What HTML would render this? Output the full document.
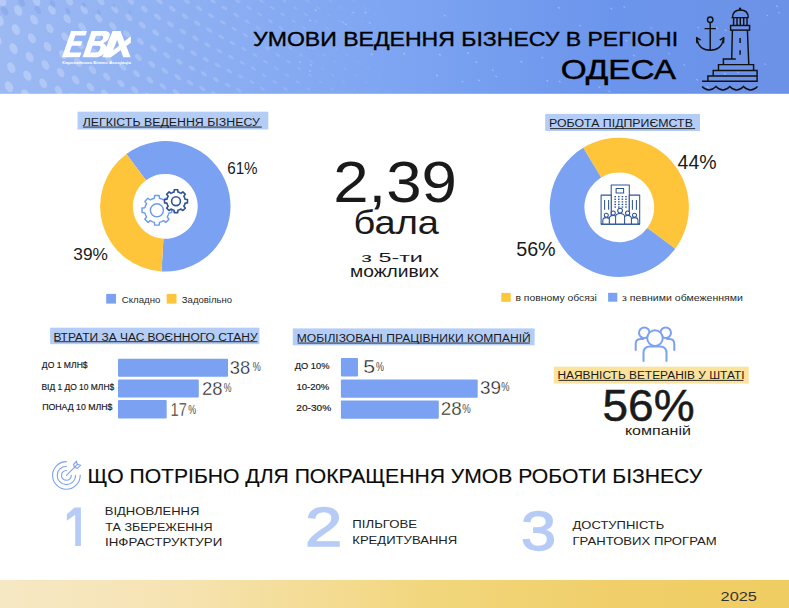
<!DOCTYPE html>
<html><head><meta charset="utf-8"><style>
html,body{margin:0;padding:0;background:#fff;}
svg{display:block;}
text{font-family:"Liberation Sans",sans-serif;}
</style></head><body>
<svg width="789" height="608" viewBox="0 0 789 608">
<defs>
<linearGradient id="hg" x1="0" y1="0" x2="1" y2="0">
<stop offset="0" stop-color="#9CB9F3"/>
<stop offset="0.5" stop-color="#7EA5F2"/>
<stop offset="0.78" stop-color="#6B95EC"/>
<stop offset="1" stop-color="#6B92E6"/>
</linearGradient>
<linearGradient id="fg" x1="0" y1="0" x2="1" y2="0">
<stop offset="0" stop-color="#F6E8C4"/>
<stop offset="0.2" stop-color="#F6E4B5"/>
<stop offset="0.55" stop-color="#F2D67C"/>
<stop offset="0.78" stop-color="#F0CF6A"/>
<stop offset="1" stop-color="#F0CD62"/>
</linearGradient>
</defs>
<rect x="0" y="0" width="789" height="93.8" fill="url(#hg)"/>
<g><ellipse cx="4.2" cy="-18.5" rx="3.85" ry="5.75" transform="rotate(-26 4.2 -18.5)" fill="#ffffff" opacity="0.26"/>
<ellipse cx="1.9" cy="1.0" rx="3.88" ry="5.78" transform="rotate(-25 1.9 1.0)" fill="#ffffff" opacity="0.26"/>
<ellipse cx="-0.5" cy="20.5" rx="3.91" ry="5.80" transform="rotate(-25 -0.5 20.5)" fill="#ffffff" opacity="0.26"/>
<ellipse cx="-2.8" cy="39.9" rx="3.93" ry="5.83" transform="rotate(-25 -2.8 39.9)" fill="#ffffff" opacity="0.26"/>
<ellipse cx="-5.1" cy="59.4" rx="3.96" ry="5.86" transform="rotate(-24 -5.1 59.4)" fill="#ffffff" opacity="0.26"/>
<ellipse cx="20.5" cy="-8.5" rx="3.65" ry="5.57" transform="rotate(-28 20.5 -8.5)" fill="#ffffff" opacity="0.25"/>
<ellipse cx="18.2" cy="10.5" rx="3.68" ry="5.60" transform="rotate(-27 18.2 10.5)" fill="#ffffff" opacity="0.25"/>
<ellipse cx="15.9" cy="29.6" rx="3.71" ry="5.63" transform="rotate(-27 15.9 29.6)" fill="#ffffff" opacity="0.25"/>
<ellipse cx="13.6" cy="48.6" rx="3.73" ry="5.65" transform="rotate(-27 13.6 48.6)" fill="#ffffff" opacity="0.25"/>
<ellipse cx="11.3" cy="67.7" rx="3.76" ry="5.68" transform="rotate(-27 11.3 67.7)" fill="#ffffff" opacity="0.25"/>
<ellipse cx="9.0" cy="86.7" rx="3.79" ry="5.70" transform="rotate(-26 9.0 86.7)" fill="#ffffff" opacity="0.26"/>
<ellipse cx="38.6" cy="-17.7" rx="3.43" ry="5.38" transform="rotate(-30 38.6 -17.7)" fill="#ffffff" opacity="0.24"/>
<ellipse cx="36.4" cy="1.0" rx="3.46" ry="5.40" transform="rotate(-30 36.4 1.0)" fill="#ffffff" opacity="0.24"/>
<ellipse cx="34.1" cy="19.7" rx="3.49" ry="5.42" transform="rotate(-30 34.1 19.7)" fill="#ffffff" opacity="0.24"/>
<ellipse cx="31.9" cy="38.3" rx="3.51" ry="5.45" transform="rotate(-29 31.9 38.3)" fill="#ffffff" opacity="0.24"/>
<ellipse cx="29.7" cy="57.0" rx="3.54" ry="5.47" transform="rotate(-29 29.7 57.0)" fill="#ffffff" opacity="0.24"/>
<ellipse cx="27.4" cy="75.6" rx="3.57" ry="5.50" transform="rotate(-29 27.4 75.6)" fill="#ffffff" opacity="0.25"/>
<ellipse cx="25.2" cy="94.3" rx="3.59" ry="5.52" transform="rotate(-28 25.2 94.3)" fill="#ffffff" opacity="0.25"/>
<ellipse cx="54.1" cy="-8.1" rx="3.25" ry="5.20" transform="rotate(-32 54.1 -8.1)" fill="#ffffff" opacity="0.23"/>
<ellipse cx="51.9" cy="10.1" rx="3.28" ry="5.23" transform="rotate(-32 51.9 10.1)" fill="#ffffff" opacity="0.23"/>
<ellipse cx="49.8" cy="28.4" rx="3.30" ry="5.25" transform="rotate(-32 49.8 28.4)" fill="#ffffff" opacity="0.23"/>
<ellipse cx="47.6" cy="46.7" rx="3.33" ry="5.28" transform="rotate(-31 47.6 46.7)" fill="#ffffff" opacity="0.24"/>
<ellipse cx="45.4" cy="65.0" rx="3.35" ry="5.30" transform="rotate(-31 45.4 65.0)" fill="#ffffff" opacity="0.24"/>
<ellipse cx="43.2" cy="83.2" rx="3.38" ry="5.33" transform="rotate(-31 43.2 83.2)" fill="#ffffff" opacity="0.24"/>
<ellipse cx="71.5" cy="-16.9" rx="3.06" ry="5.01" transform="rotate(-35 71.5 -16.9)" fill="#ffffff" opacity="0.22"/>
<ellipse cx="69.3" cy="1.0" rx="3.08" ry="5.04" transform="rotate(-34 69.3 1.0)" fill="#ffffff" opacity="0.22"/>
<ellipse cx="67.2" cy="18.9" rx="3.10" ry="5.06" transform="rotate(-34 67.2 18.9)" fill="#ffffff" opacity="0.22"/>
<ellipse cx="65.0" cy="36.8" rx="3.13" ry="5.08" transform="rotate(-34 65.0 36.8)" fill="#ffffff" opacity="0.23"/>
<ellipse cx="62.9" cy="54.7" rx="3.15" ry="5.11" transform="rotate(-34 62.9 54.7)" fill="#ffffff" opacity="0.23"/>
<ellipse cx="60.7" cy="72.6" rx="3.18" ry="5.13" transform="rotate(-33 60.7 72.6)" fill="#ffffff" opacity="0.23"/>
<ellipse cx="58.6" cy="90.5" rx="3.20" ry="5.16" transform="rotate(-33 58.6 90.5)" fill="#ffffff" opacity="0.23"/>
<ellipse cx="86.3" cy="-7.8" rx="2.89" ry="4.85" transform="rotate(-37 86.3 -7.8)" fill="#ffffff" opacity="0.21"/>
<ellipse cx="84.2" cy="9.8" rx="2.92" ry="4.87" transform="rotate(-36 84.2 9.8)" fill="#ffffff" opacity="0.22"/>
<ellipse cx="82.1" cy="27.3" rx="2.94" ry="4.90" transform="rotate(-36 82.1 27.3)" fill="#ffffff" opacity="0.22"/>
<ellipse cx="80.0" cy="44.8" rx="2.96" ry="4.92" transform="rotate(-36 80.0 44.8)" fill="#ffffff" opacity="0.22"/>
<ellipse cx="77.9" cy="62.4" rx="2.99" ry="4.94" transform="rotate(-36 77.9 62.4)" fill="#ffffff" opacity="0.22"/>
<ellipse cx="75.7" cy="79.9" rx="3.01" ry="4.97" transform="rotate(-35 75.7 79.9)" fill="#ffffff" opacity="0.22"/>
<ellipse cx="73.6" cy="97.4" rx="3.03" ry="4.99" transform="rotate(-35 73.6 97.4)" fill="#ffffff" opacity="0.22"/>
<ellipse cx="102.8" cy="-16.2" rx="2.71" ry="4.67" transform="rotate(-39 102.8 -16.2)" fill="#ffffff" opacity="0.21"/>
<ellipse cx="100.7" cy="1.0" rx="2.74" ry="4.69" transform="rotate(-39 100.7 1.0)" fill="#ffffff" opacity="0.21"/>
<ellipse cx="98.7" cy="18.2" rx="2.76" ry="4.71" transform="rotate(-38 98.7 18.2)" fill="#ffffff" opacity="0.21"/>
<ellipse cx="96.6" cy="35.3" rx="2.78" ry="4.74" transform="rotate(-38 96.6 35.3)" fill="#ffffff" opacity="0.21"/>
<ellipse cx="94.6" cy="52.5" rx="2.80" ry="4.76" transform="rotate(-38 94.6 52.5)" fill="#ffffff" opacity="0.21"/>
<ellipse cx="92.5" cy="69.7" rx="2.82" ry="4.78" transform="rotate(-38 92.5 69.7)" fill="#ffffff" opacity="0.21"/>
<ellipse cx="90.4" cy="86.9" rx="2.85" ry="4.81" transform="rotate(-37 90.4 86.9)" fill="#ffffff" opacity="0.21"/>
<ellipse cx="116.9" cy="-7.4" rx="2.56" ry="4.51" transform="rotate(-41 116.9 -7.4)" fill="#ffffff" opacity="0.20"/>
<ellipse cx="114.9" cy="9.4" rx="2.59" ry="4.54" transform="rotate(-41 114.9 9.4)" fill="#ffffff" opacity="0.20"/>
<ellipse cx="112.9" cy="26.2" rx="2.61" ry="4.56" transform="rotate(-40 112.9 26.2)" fill="#ffffff" opacity="0.20"/>
<ellipse cx="110.9" cy="43.1" rx="2.63" ry="4.58" transform="rotate(-40 110.9 43.1)" fill="#ffffff" opacity="0.20"/>
<ellipse cx="108.9" cy="59.9" rx="2.65" ry="4.60" transform="rotate(-40 108.9 59.9)" fill="#ffffff" opacity="0.20"/>
<ellipse cx="106.8" cy="76.7" rx="2.67" ry="4.62" transform="rotate(-40 106.8 76.7)" fill="#ffffff" opacity="0.20"/>
<ellipse cx="104.8" cy="93.5" rx="2.69" ry="4.65" transform="rotate(-39 104.8 93.5)" fill="#ffffff" opacity="0.20"/>
<ellipse cx="132.7" cy="-15.5" rx="2.40" ry="4.34" transform="rotate(-43 132.7 -15.5)" fill="#ffffff" opacity="0.19"/>
<ellipse cx="130.7" cy="1.0" rx="2.42" ry="4.36" transform="rotate(-43 130.7 1.0)" fill="#ffffff" opacity="0.19"/>
<ellipse cx="128.8" cy="17.5" rx="2.44" ry="4.38" transform="rotate(-43 128.8 17.5)" fill="#ffffff" opacity="0.19"/>
<ellipse cx="126.8" cy="34.0" rx="2.46" ry="4.41" transform="rotate(-42 126.8 34.0)" fill="#ffffff" opacity="0.19"/>
<ellipse cx="124.8" cy="50.4" rx="2.48" ry="4.43" transform="rotate(-42 124.8 50.4)" fill="#ffffff" opacity="0.19"/>
<ellipse cx="122.8" cy="66.9" rx="2.50" ry="4.45" transform="rotate(-42 122.8 66.9)" fill="#ffffff" opacity="0.20"/>
<ellipse cx="120.9" cy="83.4" rx="2.52" ry="4.47" transform="rotate(-41 120.9 83.4)" fill="#ffffff" opacity="0.20"/>
<ellipse cx="146.2" cy="-7.1" rx="2.27" ry="4.19" transform="rotate(-45 146.2 -7.1)" fill="#ffffff" opacity="0.18"/>
<ellipse cx="144.3" cy="9.1" rx="2.29" ry="4.21" transform="rotate(-45 144.3 9.1)" fill="#ffffff" opacity="0.18"/>
<ellipse cx="142.3" cy="25.2" rx="2.31" ry="4.23" transform="rotate(-44 142.3 25.2)" fill="#ffffff" opacity="0.19"/>
<ellipse cx="140.4" cy="41.4" rx="2.33" ry="4.26" transform="rotate(-44 140.4 41.4)" fill="#ffffff" opacity="0.19"/>
<ellipse cx="138.4" cy="57.5" rx="2.34" ry="4.28" transform="rotate(-44 138.4 57.5)" fill="#ffffff" opacity="0.19"/>
<ellipse cx="136.5" cy="73.7" rx="2.36" ry="4.30" transform="rotate(-44 136.5 73.7)" fill="#ffffff" opacity="0.19"/>
<ellipse cx="134.6" cy="89.8" rx="2.38" ry="4.32" transform="rotate(-43 134.6 89.8)" fill="#ffffff" opacity="0.19"/>
<ellipse cx="161.3" cy="-14.8" rx="2.12" ry="4.03" transform="rotate(-47 161.3 -14.8)" fill="#ffffff" opacity="0.18"/>
<ellipse cx="159.4" cy="1.0" rx="2.14" ry="4.05" transform="rotate(-47 159.4 1.0)" fill="#ffffff" opacity="0.18"/>
<ellipse cx="157.5" cy="16.8" rx="2.16" ry="4.07" transform="rotate(-46 157.5 16.8)" fill="#ffffff" opacity="0.18"/>
<ellipse cx="155.6" cy="32.6" rx="2.18" ry="4.09" transform="rotate(-46 155.6 32.6)" fill="#ffffff" opacity="0.18"/>
<ellipse cx="153.7" cy="48.5" rx="2.19" ry="4.11" transform="rotate(-46 153.7 48.5)" fill="#ffffff" opacity="0.18"/>
<ellipse cx="151.8" cy="64.3" rx="2.21" ry="4.13" transform="rotate(-46 151.8 64.3)" fill="#ffffff" opacity="0.18"/>
<ellipse cx="149.9" cy="80.1" rx="2.23" ry="4.15" transform="rotate(-45 149.9 80.1)" fill="#ffffff" opacity="0.18"/>
<ellipse cx="148.0" cy="95.9" rx="2.25" ry="4.17" transform="rotate(-45 148.0 95.9)" fill="#ffffff" opacity="0.18"/>
<ellipse cx="174.1" cy="-6.8" rx="2.00" ry="3.88" transform="rotate(-49 174.1 -6.8)" fill="#ffffff" opacity="0.17"/>
<ellipse cx="172.3" cy="8.8" rx="2.02" ry="3.91" transform="rotate(-48 172.3 8.8)" fill="#ffffff" opacity="0.17"/>
<ellipse cx="170.4" cy="24.3" rx="2.04" ry="3.93" transform="rotate(-48 170.4 24.3)" fill="#ffffff" opacity="0.17"/>
<ellipse cx="168.5" cy="39.8" rx="2.05" ry="3.95" transform="rotate(-48 168.5 39.8)" fill="#ffffff" opacity="0.17"/>
<ellipse cx="166.7" cy="55.3" rx="2.07" ry="3.97" transform="rotate(-48 166.7 55.3)" fill="#ffffff" opacity="0.17"/>
<ellipse cx="164.8" cy="70.8" rx="2.09" ry="3.99" transform="rotate(-47 164.8 70.8)" fill="#ffffff" opacity="0.17"/>
<ellipse cx="163.0" cy="86.3" rx="2.11" ry="4.01" transform="rotate(-47 163.0 86.3)" fill="#ffffff" opacity="0.17"/>
<ellipse cx="188.5" cy="-14.2" rx="1.87" ry="3.73" transform="rotate(-51 188.5 -14.2)" fill="#ffffff" opacity="0.16"/>
<ellipse cx="186.7" cy="1.0" rx="1.89" ry="3.75" transform="rotate(-50 186.7 1.0)" fill="#ffffff" opacity="0.16"/>
<ellipse cx="184.9" cy="16.2" rx="1.90" ry="3.77" transform="rotate(-50 184.9 16.2)" fill="#ffffff" opacity="0.16"/>
<ellipse cx="183.0" cy="31.4" rx="1.92" ry="3.79" transform="rotate(-50 183.0 31.4)" fill="#ffffff" opacity="0.16"/>
<ellipse cx="181.2" cy="46.6" rx="1.93" ry="3.81" transform="rotate(-50 181.2 46.6)" fill="#ffffff" opacity="0.16"/>
<ellipse cx="179.4" cy="61.8" rx="1.95" ry="3.83" transform="rotate(-49 179.4 61.8)" fill="#ffffff" opacity="0.17"/>
<ellipse cx="177.6" cy="76.9" rx="1.97" ry="3.85" transform="rotate(-49 177.6 76.9)" fill="#ffffff" opacity="0.17"/>
<ellipse cx="175.7" cy="92.1" rx="1.99" ry="3.87" transform="rotate(-49 175.7 92.1)" fill="#ffffff" opacity="0.17"/>
<ellipse cx="200.8" cy="-6.4" rx="1.76" ry="3.59" transform="rotate(-52 200.8 -6.4)" fill="#ffffff" opacity="0.15"/>
<ellipse cx="199.0" cy="8.4" rx="1.78" ry="3.61" transform="rotate(-52 199.0 8.4)" fill="#ffffff" opacity="0.16"/>
<ellipse cx="197.2" cy="23.3" rx="1.79" ry="3.63" transform="rotate(-52 197.2 23.3)" fill="#ffffff" opacity="0.16"/>
<ellipse cx="195.4" cy="38.2" rx="1.81" ry="3.65" transform="rotate(-52 195.4 38.2)" fill="#ffffff" opacity="0.16"/>
<ellipse cx="193.6" cy="53.1" rx="1.82" ry="3.67" transform="rotate(-51 193.6 53.1)" fill="#ffffff" opacity="0.16"/>
<ellipse cx="191.8" cy="68.0" rx="1.84" ry="3.69" transform="rotate(-51 191.8 68.0)" fill="#ffffff" opacity="0.16"/>
<ellipse cx="190.1" cy="82.9" rx="1.85" ry="3.71" transform="rotate(-51 190.1 82.9)" fill="#ffffff" opacity="0.16"/>
<ellipse cx="188.3" cy="97.8" rx="1.87" ry="3.73" transform="rotate(-51 188.3 97.8)" fill="#ffffff" opacity="0.16"/>
<ellipse cx="214.5" cy="-13.6" rx="1.64" ry="3.44" transform="rotate(-54 214.5 -13.6)" fill="#ffffff" opacity="0.15"/>
<ellipse cx="212.8" cy="1.0" rx="1.66" ry="3.46" transform="rotate(-54 212.8 1.0)" fill="#ffffff" opacity="0.15"/>
<ellipse cx="211.0" cy="15.6" rx="1.67" ry="3.48" transform="rotate(-54 211.0 15.6)" fill="#ffffff" opacity="0.15"/>
<ellipse cx="209.3" cy="30.2" rx="1.69" ry="3.50" transform="rotate(-54 209.3 30.2)" fill="#ffffff" opacity="0.15"/>
<ellipse cx="207.5" cy="44.8" rx="1.70" ry="3.52" transform="rotate(-53 207.5 44.8)" fill="#ffffff" opacity="0.15"/>
<ellipse cx="205.8" cy="59.3" rx="1.72" ry="3.54" transform="rotate(-53 205.8 59.3)" fill="#ffffff" opacity="0.15"/>
<ellipse cx="204.0" cy="73.9" rx="1.73" ry="3.56" transform="rotate(-53 204.0 73.9)" fill="#ffffff" opacity="0.15"/>
<ellipse cx="202.3" cy="88.5" rx="1.75" ry="3.58" transform="rotate(-53 202.3 88.5)" fill="#ffffff" opacity="0.15"/>
<ellipse cx="226.2" cy="-6.1" rx="1.55" ry="3.31" transform="rotate(-55 226.2 -6.1)" fill="#ffffff" opacity="0.14"/>
<ellipse cx="224.5" cy="8.1" rx="1.56" ry="3.33" transform="rotate(-55 224.5 8.1)" fill="#ffffff" opacity="0.14"/>
<ellipse cx="222.8" cy="22.4" rx="1.57" ry="3.35" transform="rotate(-55 222.8 22.4)" fill="#ffffff" opacity="0.14"/>
<ellipse cx="221.1" cy="36.7" rx="1.59" ry="3.37" transform="rotate(-55 221.1 36.7)" fill="#ffffff" opacity="0.14"/>
<ellipse cx="219.3" cy="51.0" rx="1.60" ry="3.39" transform="rotate(-55 219.3 51.0)" fill="#ffffff" opacity="0.14"/>
<ellipse cx="217.6" cy="65.3" rx="1.62" ry="3.41" transform="rotate(-55 217.6 65.3)" fill="#ffffff" opacity="0.15"/>
<ellipse cx="215.9" cy="79.6" rx="1.63" ry="3.42" transform="rotate(-54 215.9 79.6)" fill="#ffffff" opacity="0.15"/>
<ellipse cx="214.2" cy="93.9" rx="1.64" ry="3.44" transform="rotate(-54 214.2 93.9)" fill="#ffffff" opacity="0.15"/>
<ellipse cx="239.3" cy="-13.0" rx="1.44" ry="3.17" transform="rotate(-55 239.3 -13.0)" fill="#ffffff" opacity="0.13"/>
<ellipse cx="237.6" cy="1.0" rx="1.45" ry="3.19" transform="rotate(-55 237.6 1.0)" fill="#ffffff" opacity="0.14"/>
<ellipse cx="236.0" cy="15.0" rx="1.47" ry="3.20" transform="rotate(-55 236.0 15.0)" fill="#ffffff" opacity="0.14"/>
<ellipse cx="234.3" cy="29.0" rx="1.48" ry="3.22" transform="rotate(-55 234.3 29.0)" fill="#ffffff" opacity="0.14"/>
<ellipse cx="232.6" cy="43.0" rx="1.49" ry="3.24" transform="rotate(-55 232.6 43.0)" fill="#ffffff" opacity="0.14"/>
<ellipse cx="230.9" cy="57.1" rx="1.51" ry="3.26" transform="rotate(-55 230.9 57.1)" fill="#ffffff" opacity="0.14"/>
<ellipse cx="229.2" cy="71.1" rx="1.52" ry="3.28" transform="rotate(-55 229.2 71.1)" fill="#ffffff" opacity="0.14"/>
<ellipse cx="227.6" cy="85.1" rx="1.53" ry="3.30" transform="rotate(-55 227.6 85.1)" fill="#ffffff" opacity="0.14"/>
<ellipse cx="250.5" cy="-5.9" rx="1.35" ry="3.04" transform="rotate(-55 250.5 -5.9)" fill="#ffffff" opacity="0.13"/>
<ellipse cx="248.8" cy="7.9" rx="1.37" ry="3.06" transform="rotate(-55 248.8 7.9)" fill="#ffffff" opacity="0.13"/>
<ellipse cx="247.2" cy="21.6" rx="1.38" ry="3.08" transform="rotate(-55 247.2 21.6)" fill="#ffffff" opacity="0.13"/>
<ellipse cx="245.5" cy="35.3" rx="1.39" ry="3.10" transform="rotate(-55 245.5 35.3)" fill="#ffffff" opacity="0.13"/>
<ellipse cx="243.9" cy="49.1" rx="1.40" ry="3.12" transform="rotate(-55 243.9 49.1)" fill="#ffffff" opacity="0.13"/>
<ellipse cx="242.2" cy="62.8" rx="1.42" ry="3.14" transform="rotate(-55 242.2 62.8)" fill="#ffffff" opacity="0.13"/>
<ellipse cx="240.6" cy="76.5" rx="1.43" ry="3.15" transform="rotate(-55 240.6 76.5)" fill="#ffffff" opacity="0.13"/>
<ellipse cx="238.9" cy="90.3" rx="1.44" ry="3.17" transform="rotate(-55 238.9 90.3)" fill="#ffffff" opacity="0.13"/>
<ellipse cx="263.0" cy="-12.5" rx="1.26" ry="2.91" transform="rotate(-55 263.0 -12.5)" fill="#ffffff" opacity="0.12"/>
<ellipse cx="261.4" cy="1.0" rx="1.27" ry="2.92" transform="rotate(-55 261.4 1.0)" fill="#ffffff" opacity="0.12"/>
<ellipse cx="259.8" cy="14.5" rx="1.28" ry="2.94" transform="rotate(-55 259.8 14.5)" fill="#ffffff" opacity="0.12"/>
<ellipse cx="258.2" cy="28.0" rx="1.30" ry="2.96" transform="rotate(-55 258.2 28.0)" fill="#ffffff" opacity="0.12"/>
<ellipse cx="256.5" cy="41.5" rx="1.31" ry="2.98" transform="rotate(-55 256.5 41.5)" fill="#ffffff" opacity="0.13"/>
<ellipse cx="254.9" cy="55.0" rx="1.32" ry="3.00" transform="rotate(-55 254.9 55.0)" fill="#ffffff" opacity="0.13"/>
<ellipse cx="253.3" cy="68.5" rx="1.33" ry="3.01" transform="rotate(-55 253.3 68.5)" fill="#ffffff" opacity="0.13"/>
<ellipse cx="251.7" cy="82.0" rx="1.35" ry="3.03" transform="rotate(-55 251.7 82.0)" fill="#ffffff" opacity="0.13"/>
<ellipse cx="250.1" cy="95.5" rx="1.36" ry="3.05" transform="rotate(-55 250.1 95.5)" fill="#ffffff" opacity="0.13"/>
<ellipse cx="273.7" cy="-5.8" rx="1.19" ry="2.79" transform="rotate(-55 273.7 -5.8)" fill="#ffffff" opacity="0.12"/>
<ellipse cx="272.1" cy="7.8" rx="1.20" ry="2.81" transform="rotate(-55 272.1 7.8)" fill="#ffffff" opacity="0.12"/>
<ellipse cx="270.5" cy="21.2" rx="1.21" ry="2.82" transform="rotate(-55 270.5 21.2)" fill="#ffffff" opacity="0.12"/>
<ellipse cx="268.8" cy="34.8" rx="1.22" ry="2.84" transform="rotate(-55 268.8 34.8)" fill="#ffffff" opacity="0.12"/>
<ellipse cx="267.2" cy="48.2" rx="1.23" ry="2.86" transform="rotate(-55 267.2 48.2)" fill="#ffffff" opacity="0.12"/>
<ellipse cx="265.6" cy="61.8" rx="1.24" ry="2.88" transform="rotate(-55 265.6 61.8)" fill="#ffffff" opacity="0.12"/>
<ellipse cx="264.0" cy="75.2" rx="1.25" ry="2.90" transform="rotate(-55 264.0 75.2)" fill="#ffffff" opacity="0.12"/>
<ellipse cx="262.4" cy="88.8" rx="1.27" ry="2.91" transform="rotate(-55 262.4 88.8)" fill="#ffffff" opacity="0.12"/>
<ellipse cx="286.0" cy="-12.5" rx="1.10" ry="2.65" transform="rotate(-55 286.0 -12.5)" fill="#ffffff" opacity="0.11"/>
<ellipse cx="284.4" cy="1.0" rx="1.11" ry="2.67" transform="rotate(-55 284.4 1.0)" fill="#ffffff" opacity="0.11"/>
<ellipse cx="282.8" cy="14.5" rx="1.12" ry="2.69" transform="rotate(-55 282.8 14.5)" fill="#ffffff" opacity="0.11"/>
<ellipse cx="281.2" cy="28.0" rx="1.13" ry="2.71" transform="rotate(-55 281.2 28.0)" fill="#ffffff" opacity="0.11"/>
<ellipse cx="279.5" cy="41.5" rx="1.15" ry="2.73" transform="rotate(-55 279.5 41.5)" fill="#ffffff" opacity="0.11"/>
<ellipse cx="277.9" cy="55.0" rx="1.16" ry="2.74" transform="rotate(-55 277.9 55.0)" fill="#ffffff" opacity="0.11"/>
<ellipse cx="276.3" cy="68.5" rx="1.17" ry="2.76" transform="rotate(-55 276.3 68.5)" fill="#ffffff" opacity="0.11"/>
<ellipse cx="274.7" cy="82.0" rx="1.18" ry="2.78" transform="rotate(-55 274.7 82.0)" fill="#ffffff" opacity="0.12"/>
<ellipse cx="273.1" cy="95.5" rx="1.19" ry="2.80" transform="rotate(-55 273.1 95.5)" fill="#ffffff" opacity="0.12"/>
<ellipse cx="296.7" cy="-5.8" rx="1.03" ry="2.54" transform="rotate(-55 296.7 -5.8)" fill="#ffffff" opacity="0.10"/>
<ellipse cx="295.1" cy="7.8" rx="1.04" ry="2.55" transform="rotate(-55 295.1 7.8)" fill="#ffffff" opacity="0.11"/>
<ellipse cx="293.5" cy="21.2" rx="1.05" ry="2.57" transform="rotate(-55 293.5 21.2)" fill="#ffffff" opacity="0.11"/>
<ellipse cx="291.8" cy="34.8" rx="1.06" ry="2.59" transform="rotate(-55 291.8 34.8)" fill="#ffffff" opacity="0.11"/>
<ellipse cx="290.2" cy="48.2" rx="1.07" ry="2.61" transform="rotate(-55 290.2 48.2)" fill="#ffffff" opacity="0.11"/>
<ellipse cx="288.6" cy="61.8" rx="1.08" ry="2.63" transform="rotate(-55 288.6 61.8)" fill="#ffffff" opacity="0.11"/>
<ellipse cx="287.0" cy="75.2" rx="1.10" ry="2.64" transform="rotate(-55 287.0 75.2)" fill="#ffffff" opacity="0.11"/>
<ellipse cx="285.4" cy="88.8" rx="1.11" ry="2.66" transform="rotate(-55 285.4 88.8)" fill="#ffffff" opacity="0.11"/>
<ellipse cx="309.0" cy="-12.5" rx="0.96" ry="2.40" transform="rotate(-55 309.0 -12.5)" fill="#ffffff" opacity="0.10"/>
<ellipse cx="307.4" cy="1.0" rx="0.97" ry="2.42" transform="rotate(-55 307.4 1.0)" fill="#ffffff" opacity="0.10"/>
<ellipse cx="305.8" cy="14.5" rx="0.98" ry="2.44" transform="rotate(-55 305.8 14.5)" fill="#ffffff" opacity="0.10"/>
<ellipse cx="304.2" cy="28.0" rx="0.99" ry="2.45" transform="rotate(-55 304.2 28.0)" fill="#ffffff" opacity="0.10"/>
<ellipse cx="302.5" cy="41.5" rx="1.00" ry="2.47" transform="rotate(-55 302.5 41.5)" fill="#ffffff" opacity="0.10"/>
<ellipse cx="300.9" cy="55.0" rx="1.01" ry="2.49" transform="rotate(-55 300.9 55.0)" fill="#ffffff" opacity="0.10"/>
<ellipse cx="299.3" cy="68.5" rx="1.02" ry="2.51" transform="rotate(-55 299.3 68.5)" fill="#ffffff" opacity="0.10"/>
<ellipse cx="297.7" cy="82.0" rx="1.03" ry="2.53" transform="rotate(-55 297.7 82.0)" fill="#ffffff" opacity="0.10"/>
<ellipse cx="296.1" cy="95.5" rx="1.04" ry="2.54" transform="rotate(-55 296.1 95.5)" fill="#ffffff" opacity="0.10"/>
<ellipse cx="319.7" cy="-5.8" rx="0.90" ry="2.28" transform="rotate(-55 319.7 -5.8)" fill="#ffffff" opacity="0.09"/>
<ellipse cx="318.1" cy="7.8" rx="0.91" ry="2.30" transform="rotate(-55 318.1 7.8)" fill="#ffffff" opacity="0.09"/>
<ellipse cx="316.5" cy="21.2" rx="0.91" ry="2.32" transform="rotate(-55 316.5 21.2)" fill="#ffffff" opacity="0.09"/>
<ellipse cx="314.8" cy="34.8" rx="0.92" ry="2.34" transform="rotate(-55 314.8 34.8)" fill="#ffffff" opacity="0.09"/>
<ellipse cx="313.2" cy="48.2" rx="0.93" ry="2.35" transform="rotate(-55 313.2 48.2)" fill="#ffffff" opacity="0.10"/>
<ellipse cx="311.6" cy="61.8" rx="0.94" ry="2.37" transform="rotate(-55 311.6 61.8)" fill="#ffffff" opacity="0.10"/>
<ellipse cx="310.0" cy="75.2" rx="0.95" ry="2.39" transform="rotate(-55 310.0 75.2)" fill="#ffffff" opacity="0.10"/>
<ellipse cx="308.4" cy="88.8" rx="0.96" ry="2.41" transform="rotate(-55 308.4 88.8)" fill="#ffffff" opacity="0.10"/>
<ellipse cx="332.0" cy="-12.5" rx="0.83" ry="2.15" transform="rotate(-55 332.0 -12.5)" fill="#ffffff" opacity="0.09"/>
<ellipse cx="330.4" cy="1.0" rx="0.84" ry="2.17" transform="rotate(-55 330.4 1.0)" fill="#ffffff" opacity="0.09"/>
<ellipse cx="328.8" cy="14.5" rx="0.85" ry="2.18" transform="rotate(-55 328.8 14.5)" fill="#ffffff" opacity="0.09"/>
<ellipse cx="327.2" cy="28.0" rx="0.86" ry="2.20" transform="rotate(-55 327.2 28.0)" fill="#ffffff" opacity="0.09"/>
<ellipse cx="325.5" cy="41.5" rx="0.87" ry="2.22" transform="rotate(-55 325.5 41.5)" fill="#ffffff" opacity="0.09"/>
<ellipse cx="323.9" cy="55.0" rx="0.87" ry="2.24" transform="rotate(-55 323.9 55.0)" fill="#ffffff" opacity="0.09"/>
<ellipse cx="322.3" cy="68.5" rx="0.88" ry="2.25" transform="rotate(-55 322.3 68.5)" fill="#ffffff" opacity="0.09"/>
<ellipse cx="320.7" cy="82.0" rx="0.89" ry="2.27" transform="rotate(-55 320.7 82.0)" fill="#ffffff" opacity="0.09"/>
<ellipse cx="319.1" cy="95.5" rx="0.90" ry="2.29" transform="rotate(-55 319.1 95.5)" fill="#ffffff" opacity="0.09"/>
<ellipse cx="342.7" cy="-5.8" rx="0.78" ry="2.03" transform="rotate(-55 342.7 -5.8)" fill="#ffffff" opacity="0.08"/>
<ellipse cx="341.1" cy="7.8" rx="0.79" ry="2.05" transform="rotate(-55 341.1 7.8)" fill="#ffffff" opacity="0.08"/>
<ellipse cx="339.5" cy="21.2" rx="0.79" ry="2.07" transform="rotate(-55 339.5 21.2)" fill="#ffffff" opacity="0.08"/>
<ellipse cx="337.8" cy="34.8" rx="0.80" ry="2.08" transform="rotate(-55 337.8 34.8)" fill="#ffffff" opacity="0.08"/>
<ellipse cx="336.2" cy="48.2" rx="0.81" ry="2.10" transform="rotate(-55 336.2 48.2)" fill="#ffffff" opacity="0.08"/>
<ellipse cx="334.6" cy="61.8" rx="0.82" ry="2.12" transform="rotate(-55 334.6 61.8)" fill="#ffffff" opacity="0.08"/>
<ellipse cx="333.0" cy="75.2" rx="0.83" ry="2.14" transform="rotate(-55 333.0 75.2)" fill="#ffffff" opacity="0.09"/>
<ellipse cx="331.4" cy="88.8" rx="0.83" ry="2.16" transform="rotate(-55 331.4 88.8)" fill="#ffffff" opacity="0.09"/>
<ellipse cx="355.0" cy="-12.5" rx="0.72" ry="1.89" transform="rotate(-55 355.0 -12.5)" fill="#ffffff" opacity="0.07"/>
<ellipse cx="353.4" cy="1.0" rx="0.73" ry="1.91" transform="rotate(-55 353.4 1.0)" fill="#ffffff" opacity="0.07"/>
<ellipse cx="351.8" cy="14.5" rx="0.74" ry="1.93" transform="rotate(-55 351.8 14.5)" fill="#ffffff" opacity="0.08"/>
<ellipse cx="350.2" cy="28.0" rx="0.75" ry="1.95" transform="rotate(-55 350.2 28.0)" fill="#ffffff" opacity="0.08"/>
<ellipse cx="348.5" cy="41.5" rx="0.75" ry="1.97" transform="rotate(-55 348.5 41.5)" fill="#ffffff" opacity="0.08"/>
<ellipse cx="346.9" cy="55.0" rx="0.76" ry="1.98" transform="rotate(-55 346.9 55.0)" fill="#ffffff" opacity="0.08"/>
<ellipse cx="345.3" cy="68.5" rx="0.77" ry="2.00" transform="rotate(-55 345.3 68.5)" fill="#ffffff" opacity="0.08"/>
<ellipse cx="343.7" cy="82.0" rx="0.77" ry="2.02" transform="rotate(-55 343.7 82.0)" fill="#ffffff" opacity="0.08"/>
<ellipse cx="342.1" cy="95.5" rx="0.78" ry="2.04" transform="rotate(-55 342.1 95.5)" fill="#ffffff" opacity="0.08"/>
<ellipse cx="365.7" cy="-5.8" rx="0.68" ry="1.78" transform="rotate(-55 365.7 -5.8)" fill="#ffffff" opacity="0.07"/>
<ellipse cx="364.1" cy="7.8" rx="0.69" ry="1.80" transform="rotate(-55 364.1 7.8)" fill="#ffffff" opacity="0.07"/>
<ellipse cx="362.5" cy="21.2" rx="0.69" ry="1.81" transform="rotate(-55 362.5 21.2)" fill="#ffffff" opacity="0.07"/>
<ellipse cx="360.8" cy="34.8" rx="0.70" ry="1.83" transform="rotate(-55 360.8 34.8)" fill="#ffffff" opacity="0.07"/>
<ellipse cx="359.2" cy="48.2" rx="0.71" ry="1.85" transform="rotate(-55 359.2 48.2)" fill="#ffffff" opacity="0.07"/>
<ellipse cx="357.6" cy="61.8" rx="0.71" ry="1.87" transform="rotate(-55 357.6 61.8)" fill="#ffffff" opacity="0.07"/>
<ellipse cx="356.0" cy="75.2" rx="0.72" ry="1.88" transform="rotate(-55 356.0 75.2)" fill="#ffffff" opacity="0.07"/>
<ellipse cx="354.4" cy="88.8" rx="0.73" ry="1.90" transform="rotate(-55 354.4 88.8)" fill="#ffffff" opacity="0.07"/>
<ellipse cx="378.0" cy="-12.5" rx="0.64" ry="1.64" transform="rotate(-55 378.0 -12.5)" fill="#ffffff" opacity="0.06"/>
<ellipse cx="376.4" cy="1.0" rx="0.65" ry="1.66" transform="rotate(-55 376.4 1.0)" fill="#ffffff" opacity="0.06"/>
<ellipse cx="374.8" cy="14.5" rx="0.65" ry="1.68" transform="rotate(-55 374.8 14.5)" fill="#ffffff" opacity="0.06"/>
<ellipse cx="373.2" cy="28.0" rx="0.66" ry="1.70" transform="rotate(-55 373.2 28.0)" fill="#ffffff" opacity="0.06"/>
<ellipse cx="371.5" cy="41.5" rx="0.66" ry="1.71" transform="rotate(-55 371.5 41.5)" fill="#ffffff" opacity="0.06"/>
<ellipse cx="369.9" cy="55.0" rx="0.67" ry="1.73" transform="rotate(-55 369.9 55.0)" fill="#ffffff" opacity="0.07"/>
<ellipse cx="368.3" cy="68.5" rx="0.67" ry="1.75" transform="rotate(-55 368.3 68.5)" fill="#ffffff" opacity="0.07"/>
<ellipse cx="366.7" cy="82.0" rx="0.68" ry="1.77" transform="rotate(-55 366.7 82.0)" fill="#ffffff" opacity="0.07"/>
<ellipse cx="365.1" cy="95.5" rx="0.69" ry="1.78" transform="rotate(-55 365.1 95.5)" fill="#ffffff" opacity="0.07"/>
<ellipse cx="388.7" cy="-5.8" rx="0.62" ry="1.52" transform="rotate(-55 388.7 -5.8)" fill="#ffffff" opacity="0.06"/>
<ellipse cx="387.1" cy="7.8" rx="0.62" ry="1.54" transform="rotate(-55 387.1 7.8)" fill="#ffffff" opacity="0.06"/>
<ellipse cx="385.5" cy="21.2" rx="0.62" ry="1.56" transform="rotate(-55 385.5 21.2)" fill="#ffffff" opacity="0.06"/>
<ellipse cx="383.8" cy="34.8" rx="0.63" ry="1.58" transform="rotate(-55 383.8 34.8)" fill="#ffffff" opacity="0.06"/>
<ellipse cx="382.2" cy="48.2" rx="0.63" ry="1.60" transform="rotate(-55 382.2 48.2)" fill="#ffffff" opacity="0.06"/>
<ellipse cx="380.6" cy="61.8" rx="0.64" ry="1.61" transform="rotate(-55 380.6 61.8)" fill="#ffffff" opacity="0.06"/>
<ellipse cx="379.0" cy="75.2" rx="0.64" ry="1.63" transform="rotate(-55 379.0 75.2)" fill="#ffffff" opacity="0.06"/>
<ellipse cx="377.4" cy="88.8" rx="0.64" ry="1.65" transform="rotate(-55 377.4 88.8)" fill="#ffffff" opacity="0.06"/>
<ellipse cx="391.3" cy="68.5" rx="0.61" ry="1.50" transform="rotate(-55 391.3 68.5)" fill="#ffffff" opacity="0.05"/>
<ellipse cx="389.7" cy="82.0" rx="0.61" ry="1.51" transform="rotate(-55 389.7 82.0)" fill="#ffffff" opacity="0.06"/>
<ellipse cx="388.1" cy="95.5" rx="0.62" ry="1.53" transform="rotate(-55 388.1 95.5)" fill="#ffffff" opacity="0.06"/>
<ellipse cx="444.8" cy="15.6" rx="0.6" ry="1.2" transform="rotate(-50 444.8 15.6)" fill="#ffffff" opacity="0.35"/>
<ellipse cx="611.3" cy="8.5" rx="0.6" ry="1.2" transform="rotate(-50 611.3 8.5)" fill="#ffffff" opacity="0.35"/>
<ellipse cx="552.8" cy="34.9" rx="0.6" ry="1.2" transform="rotate(-50 552.8 34.9)" fill="#ffffff" opacity="0.35"/>
<ellipse cx="309.5" cy="47.7" rx="0.6" ry="1.2" transform="rotate(-50 309.5 47.7)" fill="#ffffff" opacity="0.35"/>
<ellipse cx="299.1" cy="41.0" rx="0.6" ry="1.2" transform="rotate(-50 299.1 41.0)" fill="#ffffff" opacity="0.35"/>
<ellipse cx="315.6" cy="10.2" rx="0.6" ry="1.2" transform="rotate(-50 315.6 10.2)" fill="#ffffff" opacity="0.35"/>
<ellipse cx="496.1" cy="76.4" rx="0.6" ry="1.2" transform="rotate(-50 496.1 76.4)" fill="#ffffff" opacity="0.35"/>
<ellipse cx="343.0" cy="22.1" rx="0.6" ry="1.2" transform="rotate(-50 343.0 22.1)" fill="#ffffff" opacity="0.35"/>
<ellipse cx="599.4" cy="87.3" rx="0.6" ry="1.2" transform="rotate(-50 599.4 87.3)" fill="#ffffff" opacity="0.35"/>
<ellipse cx="573.7" cy="37.7" rx="0.6" ry="1.2" transform="rotate(-50 573.7 37.7)" fill="#ffffff" opacity="0.35"/>
<ellipse cx="776.9" cy="6.2" rx="0.6" ry="1.2" transform="rotate(-50 776.9 6.2)" fill="#ffffff" opacity="0.35"/>
<ellipse cx="717.0" cy="28.1" rx="0.6" ry="1.2" transform="rotate(-50 717.0 28.1)" fill="#ffffff" opacity="0.35"/>
<ellipse cx="353.4" cy="12.6" rx="0.6" ry="1.2" transform="rotate(-50 353.4 12.6)" fill="#ffffff" opacity="0.35"/>
<ellipse cx="437.0" cy="75.5" rx="0.6" ry="1.2" transform="rotate(-50 437.0 75.5)" fill="#ffffff" opacity="0.35"/>
<ellipse cx="372.0" cy="54.3" rx="0.6" ry="1.2" transform="rotate(-50 372.0 54.3)" fill="#ffffff" opacity="0.35"/>
<ellipse cx="605.2" cy="35.5" rx="0.6" ry="1.2" transform="rotate(-50 605.2 35.5)" fill="#ffffff" opacity="0.35"/>
<ellipse cx="558.8" cy="7.7" rx="0.6" ry="1.2" transform="rotate(-50 558.8 7.7)" fill="#ffffff" opacity="0.35"/>
<ellipse cx="310.3" cy="20.5" rx="0.6" ry="1.2" transform="rotate(-50 310.3 20.5)" fill="#ffffff" opacity="0.35"/>
<ellipse cx="626.3" cy="40.5" rx="0.6" ry="1.2" transform="rotate(-50 626.3 40.5)" fill="#ffffff" opacity="0.35"/>
<ellipse cx="439.9" cy="54.7" rx="0.6" ry="1.2" transform="rotate(-50 439.9 54.7)" fill="#ffffff" opacity="0.35"/>
<ellipse cx="510.7" cy="29.0" rx="0.6" ry="1.2" transform="rotate(-50 510.7 29.0)" fill="#ffffff" opacity="0.35"/>
<ellipse cx="684.3" cy="64.9" rx="0.6" ry="1.2" transform="rotate(-50 684.3 64.9)" fill="#ffffff" opacity="0.35"/>
<ellipse cx="404.2" cy="53.7" rx="0.6" ry="1.2" transform="rotate(-50 404.2 53.7)" fill="#ffffff" opacity="0.35"/>
<ellipse cx="547.3" cy="80.8" rx="0.6" ry="1.2" transform="rotate(-50 547.3 80.8)" fill="#ffffff" opacity="0.35"/>
<ellipse cx="651.3" cy="27.9" rx="0.6" ry="1.2" transform="rotate(-50 651.3 27.9)" fill="#ffffff" opacity="0.35"/>
<ellipse cx="778.9" cy="12.6" rx="0.6" ry="1.2" transform="rotate(-50 778.9 12.6)" fill="#ffffff" opacity="0.35"/>
<ellipse cx="492.8" cy="70.1" rx="0.6" ry="1.2" transform="rotate(-50 492.8 70.1)" fill="#ffffff" opacity="0.35"/>
<ellipse cx="357.4" cy="46.0" rx="0.6" ry="1.2" transform="rotate(-50 357.4 46.0)" fill="#ffffff" opacity="0.35"/>
<ellipse cx="300.0" cy="62.1" rx="0.6" ry="1.2" transform="rotate(-50 300.0 62.1)" fill="#ffffff" opacity="0.35"/>
<ellipse cx="669.2" cy="53.6" rx="0.6" ry="1.2" transform="rotate(-50 669.2 53.6)" fill="#ffffff" opacity="0.35"/>
<ellipse cx="725.6" cy="30.2" rx="0.6" ry="1.2" transform="rotate(-50 725.6 30.2)" fill="#ffffff" opacity="0.35"/>
<ellipse cx="633.9" cy="55.5" rx="0.6" ry="1.2" transform="rotate(-50 633.9 55.5)" fill="#ffffff" opacity="0.35"/>
<ellipse cx="575.2" cy="43.1" rx="0.6" ry="1.2" transform="rotate(-50 575.2 43.1)" fill="#ffffff" opacity="0.35"/>
<ellipse cx="707.5" cy="87.0" rx="0.6" ry="1.2" transform="rotate(-50 707.5 87.0)" fill="#ffffff" opacity="0.35"/>
<ellipse cx="521.3" cy="61.8" rx="0.6" ry="1.2" transform="rotate(-50 521.3 61.8)" fill="#ffffff" opacity="0.35"/>
<ellipse cx="310.9" cy="65.1" rx="0.6" ry="1.2" transform="rotate(-50 310.9 65.1)" fill="#ffffff" opacity="0.35"/>
<ellipse cx="609.4" cy="91.4" rx="0.6" ry="1.2" transform="rotate(-50 609.4 91.4)" fill="#ffffff" opacity="0.35"/>
<ellipse cx="698.4" cy="27.6" rx="0.6" ry="1.2" transform="rotate(-50 698.4 27.6)" fill="#ffffff" opacity="0.35"/>
<ellipse cx="476.4" cy="62.2" rx="0.6" ry="1.2" transform="rotate(-50 476.4 62.2)" fill="#ffffff" opacity="0.35"/>
<ellipse cx="291.5" cy="43.6" rx="0.6" ry="1.2" transform="rotate(-50 291.5 43.6)" fill="#ffffff" opacity="0.35"/>
<ellipse cx="365.5" cy="12.5" rx="0.6" ry="1.2" transform="rotate(-50 365.5 12.5)" fill="#ffffff" opacity="0.35"/>
<ellipse cx="310.0" cy="71.1" rx="0.6" ry="1.2" transform="rotate(-50 310.0 71.1)" fill="#ffffff" opacity="0.35"/>
<ellipse cx="345.8" cy="24.3" rx="0.6" ry="1.2" transform="rotate(-50 345.8 24.3)" fill="#ffffff" opacity="0.35"/>
<ellipse cx="479.0" cy="80.4" rx="0.6" ry="1.2" transform="rotate(-50 479.0 80.4)" fill="#ffffff" opacity="0.35"/>
<ellipse cx="321.0" cy="42.4" rx="0.6" ry="1.2" transform="rotate(-50 321.0 42.4)" fill="#ffffff" opacity="0.35"/>
<ellipse cx="559.7" cy="81.5" rx="0.6" ry="1.2" transform="rotate(-50 559.7 81.5)" fill="#ffffff" opacity="0.35"/>
<ellipse cx="697.0" cy="79.8" rx="0.6" ry="1.2" transform="rotate(-50 697.0 79.8)" fill="#ffffff" opacity="0.35"/>
<ellipse cx="421.7" cy="39.4" rx="0.6" ry="1.2" transform="rotate(-50 421.7 39.4)" fill="#ffffff" opacity="0.35"/>
<ellipse cx="462.6" cy="81.6" rx="0.6" ry="1.2" transform="rotate(-50 462.6 81.6)" fill="#ffffff" opacity="0.35"/>
<ellipse cx="767.5" cy="15.6" rx="0.6" ry="1.2" transform="rotate(-50 767.5 15.6)" fill="#ffffff" opacity="0.35"/>
<ellipse cx="369.7" cy="22.9" rx="0.6" ry="1.2" transform="rotate(-50 369.7 22.9)" fill="#ffffff" opacity="0.35"/>
<ellipse cx="398.8" cy="45.6" rx="0.6" ry="1.2" transform="rotate(-50 398.8 45.6)" fill="#ffffff" opacity="0.35"/>
<ellipse cx="579.9" cy="25.6" rx="0.6" ry="1.2" transform="rotate(-50 579.9 25.6)" fill="#ffffff" opacity="0.35"/>
<ellipse cx="282.1" cy="39.7" rx="0.6" ry="1.2" transform="rotate(-50 282.1 39.7)" fill="#ffffff" opacity="0.35"/>
<ellipse cx="468.0" cy="53.0" rx="0.6" ry="1.2" transform="rotate(-50 468.0 53.0)" fill="#ffffff" opacity="0.35"/>
<ellipse cx="765.1" cy="64.1" rx="0.6" ry="1.2" transform="rotate(-50 765.1 64.1)" fill="#ffffff" opacity="0.35"/>
<ellipse cx="542.4" cy="57.6" rx="0.6" ry="1.2" transform="rotate(-50 542.4 57.6)" fill="#ffffff" opacity="0.35"/>
<ellipse cx="624.2" cy="6.9" rx="0.6" ry="1.2" transform="rotate(-50 624.2 6.9)" fill="#ffffff" opacity="0.35"/>
<ellipse cx="737.9" cy="72.2" rx="0.6" ry="1.2" transform="rotate(-50 737.9 72.2)" fill="#ffffff" opacity="0.35"/>
<ellipse cx="725.1" cy="73.8" rx="0.6" ry="1.2" transform="rotate(-50 725.1 73.8)" fill="#ffffff" opacity="0.35"/>
<ellipse cx="4.6" cy="10.8" rx="3.1" ry="5.1" transform="rotate(-30 4.6 10.8)" fill="#5A7FD6" opacity="0.18"/>
<ellipse cx="21.6" cy="2.3" rx="2.8" ry="4.6" transform="rotate(-30 21.6 2.3)" fill="#5A7FD6" opacity="0.18"/>
<ellipse cx="37.9" cy="10.0" rx="2.6" ry="4.2" transform="rotate(-30 37.9 10.0)" fill="#5A7FD6" opacity="0.18"/>
<ellipse cx="52.6" cy="3.9" rx="2.3" ry="3.8" transform="rotate(-30 52.6 3.9)" fill="#5A7FD6" opacity="0.18"/>
<ellipse cx="68.0" cy="11.0" rx="2.1" ry="3.4" transform="rotate(-30 68.0 11.0)" fill="#5A7FD6" opacity="0.18"/>
<ellipse cx="84.0" cy="5.0" rx="1.8" ry="3.0" transform="rotate(-30 84.0 5.0)" fill="#5A7FD6" opacity="0.18"/>
<ellipse cx="99.0" cy="12.0" rx="1.6" ry="2.6" transform="rotate(-30 99.0 12.0)" fill="#5A7FD6" opacity="0.18"/>
<ellipse cx="114.0" cy="6.0" rx="1.3" ry="2.2" transform="rotate(-30 114.0 6.0)" fill="#5A7FD6" opacity="0.18"/>
<ellipse cx="130.0" cy="12.0" rx="1.1" ry="1.8" transform="rotate(-30 130.0 12.0)" fill="#5A7FD6" opacity="0.18"/></g>
<g fill="#fff">
<g transform="translate(0,57.3) skewX(-19.1) translate(0,-57.3)">
<path d="M62,31 H78 V35.6 H67.8 V41.3 H76.8 V45.7 H67.8 V52.6 H79.8 V57.3 H62 Z"/>
<path fill-rule="evenodd" d="M82.5,31 H95.5 C100,31 102.3,33.3 102.3,36.8 C102.3,39.8 100.8,42 98.3,43.2 C101.5,44.2 103.2,46.8 103.2,50.2 C103.2,54.6 100.3,57.3 95.5,57.3 H82.5 Z M88.6,35.8 V40.9 H94 C95.6,40.9 96.4,40 96.4,38.3 C96.4,36.7 95.6,35.8 94,35.8 Z M88.6,45.8 V52.5 H94.6 C96.4,52.5 97.2,51.3 97.2,49.1 C97.2,47 96.4,45.8 94.6,45.8 Z"/>
</g>
<path d="M102.3,57.3 L112.5,31 L120.5,31 L110.5,57.3 Z"/>
<path d="M114,31 L120.5,31 L130.6,57.3 L123.2,57.3 Z"/>
<path d="M104.5,57.3 L130.8,36.2 L130.8,42.7 L111,57.3 Z"/>
<text id="logo2" x="62.00" y="63.60" font-size="3.80" fill="#fff" font-weight="bold" textLength="69.00" lengthAdjust="spacingAndGlyphs">Європейська Бізнес Асоціація</text>
</g>
<text id="title1" x="253.06" y="46.00" font-size="20.45" fill="#000" stroke="#000" stroke-width="0.35" textLength="425.08" lengthAdjust="spacingAndGlyphs">УМОВИ ВЕДЕННЯ БІЗНЕСУ В РЕГІОНІ</text>
<text id="title2" x="560.65" y="78.60" font-size="28.52" fill="#000" stroke="#000" stroke-width="0.45" textLength="115.42" lengthAdjust="spacingAndGlyphs">ОДЕСА</text>
<g fill="none" stroke="#111" stroke-width="1.45" stroke-linecap="butt" stroke-linejoin="miter">
<circle cx="710.2" cy="19.7" r="2.7"/>
<path d="M710.2,22.4 V50.3 M704.6,28.6 H715.9 M696.9,39.2 Q699,50.3 710.2,50.3 Q721.4,50.3 723.5,39.2"/>
<path d="M696.9,43.2 L696.6,37.6 L700.6,40.2 M723.5,43.2 L723.8,37.6 L719.8,40.2" stroke-linejoin="round"/>
<path d="M731.5,17.6 H748.7 M732.6,17.6 Q732.6,10 740.4,10 Q748.2,10 748.2,17.6"/>
<path d="M733.6,17.6 V25.5 M737,17.6 V25.5 M740.3,17.6 V25.5 M743.7,17.6 V25.5 M747,17.6 V25.5"/>
<rect x="730.6" y="25.5" width="19" height="4.6"/>
<path d="M732.4,30.1 L731.7,58.9 M747.4,30.1 L748.8,64.6 M740.1,38 V42.9 M740.1,50.3 V54.8"/>
<path d="M735.8,58.9 H723.4 V64.6"/>
<path d="M718.5,70.4 V64.6 H753.6 V70.4 Z M713.2,75.9 V70.4 H757.1 V75.9 Z M707.9,81.2 V75.9 H757.1 V81.2 Z M702.1,81.2 H757.1"/>
<path d="M702.1,86.4 Q709,93.4 716,86.4 Q722.9,93.4 729.8,86.4 Q736.6,93.4 743.5,86.4 Q750.5,93.4 757.5,86.4"/>
</g>
<circle cx="740.1" cy="8.9" r="1.3" fill="#111"/>

<rect x="77.5" y="111.7" width="190.8" height="17.8" fill="#B4CDF7"/>
<text id="lab1" x="82.69" y="125.80" font-size="11.84" fill="#1a1a1a" textLength="177.07" lengthAdjust="spacingAndGlyphs">ЛЕГКІСТЬ ВЕДЕННЯ БІЗНЕСУ</text>
<rect x="82.8" y="126.6" width="179" height="0.9" fill="#1a1a1a"/>
<path d="M126.43,153.96 A65.2,65.2 0 1 1 161.55,271.39 L163.43,238.65 A32.4,32.4 0 1 0 145.98,180.29 Z" fill="#7BA1F2"/>
<path d="M161.55,271.39 A65.2,65.2 0 0 1 126.43,153.96 L145.98,180.29 A32.4,32.4 0 0 0 163.43,238.65 Z" fill="#FFC53A"/>
<path d="M152.19,198.94 L154.31,198.28 L154.67,195.47 L159.13,195.47 L159.49,198.28 L161.61,198.94 L163.57,199.97 L165.81,198.23 L168.97,201.39 L167.23,203.63 L168.26,205.59 L168.92,207.71 L171.73,208.07 L171.73,212.53 L168.92,212.89 L168.26,215.01 L167.23,216.97 L168.97,219.21 L165.81,222.37 L163.57,220.63 L161.61,221.66 L159.49,222.32 L159.13,225.13 L154.67,225.13 L154.31,222.32 L152.19,221.66 L150.23,220.63 L147.99,222.37 L144.83,219.21 L146.57,216.97 L145.54,215.01 L144.88,212.89 L142.07,212.53 L142.07,208.07 L144.88,207.71 L145.54,205.59 L146.57,203.63 L144.83,201.39 L147.99,198.23 L150.23,199.97Z" fill="#fff" stroke="#6E9BF0" stroke-width="1.45" stroke-linejoin="round"/><circle cx="156.9" cy="210.3" r="6.5" fill="none" stroke="#6E9BF0" stroke-width="1.45"/><path d="M172.44,192.61 L174.04,192.11 L174.28,189.73 L177.72,189.73 L177.96,192.11 L179.56,192.61 L181.04,193.39 L182.89,191.87 L185.33,194.31 L183.81,196.16 L184.59,197.64 L185.09,199.24 L187.47,199.48 L187.47,202.92 L185.09,203.16 L184.59,204.76 L183.81,206.24 L185.33,208.09 L182.89,210.53 L181.04,209.01 L179.56,209.79 L177.96,210.29 L177.72,212.67 L174.28,212.67 L174.04,210.29 L172.44,209.79 L170.96,209.01 L169.11,210.53 L166.67,208.09 L168.19,206.24 L167.41,204.76 L166.91,203.16 L164.53,202.92 L164.53,199.48 L166.91,199.24 L167.41,197.64 L168.19,196.16 L166.67,194.31 L169.11,191.87 L170.96,193.39Z" fill="#fff" stroke="#2E5392" stroke-width="1.6" stroke-linejoin="round"/><circle cx="176" cy="201.2" r="4.4" fill="none" stroke="#2E5392" stroke-width="1.6"/>
<text id="p61" x="227.19" y="174.38" font-size="17.19" fill="#1a1a1a" textLength="30.42" lengthAdjust="spacingAndGlyphs">61%</text>
<text id="p39" x="73.35" y="259.62" font-size="17.19" fill="#1a1a1a" textLength="34.63" lengthAdjust="spacingAndGlyphs">39%</text>
<rect x="106.2" y="293.9" width="9.8" height="9.7" fill="#7BA1F2"/>
<text id="leg1" x="121.73" y="302.70" font-size="9.66" fill="#2a2a2a" textLength="38.69" lengthAdjust="spacingAndGlyphs">Складно</text>
<rect x="166.7" y="293.9" width="9.8" height="9.7" fill="#FFC53A"/>
<text id="leg2" x="181.86" y="302.70" font-size="9.66" fill="#2a2a2a" textLength="50.24" lengthAdjust="spacingAndGlyphs">Задовільно</text>
<text id="big" x="333.20" y="202.00" font-size="57.68" fill="#1a1a1a" textLength="123.81" lengthAdjust="spacingAndGlyphs">2,39</text>
<text id="bala" x="353.62" y="234.30" font-size="33.62" fill="#1a1a1a" textLength="85.33" lengthAdjust="spacingAndGlyphs">бала</text>
<text id="z5" x="361.33" y="262.20" font-size="11.92" fill="#1a1a1a" textLength="61.58" lengthAdjust="spacingAndGlyphs">з 5-ти</text>
<text id="mozh" x="350.01" y="277.46" font-size="16.93" fill="#1a1a1a" textLength="88.94" lengthAdjust="spacingAndGlyphs">можливих</text>

<rect x="545.2" y="113.9" width="154.8" height="17.1" fill="#B4CDF7"/>
<text id="lab2" x="548.98" y="127.20" font-size="11.84" fill="#1a1a1a" textLength="143.91" lengthAdjust="spacingAndGlyphs">РОБОТА ПІДПРИЄМСТВ</text>
<rect x="550" y="128.2" width="145.2" height="0.9" fill="#1a1a1a"/>
<path d="M583.14,147.83 A69.6,69.6 0 0 1 675.18,248.80 L647.32,228.11 A34.9,34.9 0 0 0 601.17,177.48 Z" fill="#FFC53A"/>
<path d="M675.18,248.80 A69.6,69.6 0 1 1 583.14,147.83 L601.17,177.48 A34.9,34.9 0 1 0 647.32,228.11 Z" fill="#7BA1F2"/>
<g fill="none" stroke="#2F5597" stroke-width="1.05" stroke-linejoin="round">
<rect x="611.2" y="185" width="18.1" height="39.1" fill="#fff"/>
<rect x="601.1" y="195.1" width="10.1" height="29" fill="#fff"/>
<rect x="629.3" y="195.1" width="10.4" height="29" fill="#fff"/>
<rect x="616.1" y="188.4" width="7.5" height="4.6"/>
<path d="M604.6,200 V209.7 M608.6,200 V209.7 M632.4,200 V209.7 M636.4,200 V209.7"/>
</g>
<g fill="#2F5597">
<rect x="614.4" y="196.0" width="1.6" height="1.3"/>
<rect x="614.4" y="198.6" width="1.6" height="1.3"/>
<rect x="614.4" y="201.2" width="1.6" height="1.3"/>
<rect x="614.4" y="203.8" width="1.6" height="1.3"/>
<rect x="614.4" y="206.4" width="1.6" height="1.3"/>
<rect x="618.0" y="196.0" width="1.6" height="1.3"/>
<rect x="618.0" y="198.6" width="1.6" height="1.3"/>
<rect x="618.0" y="201.2" width="1.6" height="1.3"/>
<rect x="618.0" y="203.8" width="1.6" height="1.3"/>
<rect x="618.0" y="206.4" width="1.6" height="1.3"/>
<rect x="621.6" y="196.0" width="1.6" height="1.3"/>
<rect x="621.6" y="198.6" width="1.6" height="1.3"/>
<rect x="621.6" y="201.2" width="1.6" height="1.3"/>
<rect x="621.6" y="203.8" width="1.6" height="1.3"/>
<rect x="621.6" y="206.4" width="1.6" height="1.3"/>
<rect x="625.2" y="196.0" width="1.6" height="1.3"/>
<rect x="625.2" y="198.6" width="1.6" height="1.3"/>
<rect x="625.2" y="201.2" width="1.6" height="1.3"/>
<rect x="625.2" y="203.8" width="1.6" height="1.3"/>
<rect x="625.2" y="206.4" width="1.6" height="1.3"/>
</g>
<g fill="#fff" stroke="#2F5597" stroke-width="1.05">
<path d="M602.8,224.1 V220.5 Q602.8,217.6 606.3,217.6 Q609.8,217.6 609.8,220.5 V224.1"/>
<path d="M630.9,224.1 V220.5 Q630.9,217.6 634.5,217.6 Q638,217.6 638,220.5 V224.1"/>
<path d="M609.3,224.1 V218.5 Q609.3,215.4 613.2,215.4 Q617,215.4 617,218.5 V224.1"/>
<path d="M623.8,224.1 V218.5 Q623.8,215.4 627.6,215.4 Q631.4,215.4 631.4,218.5 V224.1"/>
<path d="M615.6,224.1 V216.8 Q615.6,213.4 620.1,213.4 Q624.6,213.4 624.6,216.8 V224.1"/>
<circle cx="606.3" cy="215.3" r="2"/>
<circle cx="634.5" cy="215.3" r="2"/>
<circle cx="613.2" cy="213" r="2.1"/>
<circle cx="627.6" cy="213" r="2.1"/>
<circle cx="620.1" cy="210.6" r="2.4"/>
<path d="M601,224.1 H639.8" fill="none"/>
</g>
<text id="p44" x="677.56" y="168.92" font-size="19.46" fill="#1a1a1a" textLength="39.07" lengthAdjust="spacingAndGlyphs">44%</text>
<text id="p56" x="516.17" y="255.55" font-size="19.46" fill="#1a1a1a" textLength="39.50" lengthAdjust="spacingAndGlyphs">56%</text>
<rect x="501.3" y="292.9" width="9.4" height="8.9" fill="#FFC53A"/>
<text id="leg3" x="515.42" y="300.70" font-size="8.80" fill="#2a2a2a" textLength="81.48" lengthAdjust="spacingAndGlyphs">в повному обсязі</text>
<rect x="608.1" y="292.8" width="9.2" height="8.9" fill="#7BA1F2"/>
<text id="leg4" x="622.08" y="300.50" font-size="8.80" fill="#2a2a2a" textLength="120.81" lengthAdjust="spacingAndGlyphs">з певними обмеженнями</text>

<rect x="50.1" y="327.7" width="209.3" height="16.5" fill="#B4CDF7"/>
<text id="lab3" x="53.41" y="340.50" font-size="11.84" fill="#1a1a1a" textLength="204.22" lengthAdjust="spacingAndGlyphs">ВТРАТИ ЗА ЧАС ВОЄННОГО СТАНУ</text>
<rect x="54.4" y="341.3" width="203" height="0.9" fill="#1a1a1a"/>
<rect x="118" y="358.7" width="110" height="18" rx="1" fill="#7BA1F2"/>
<rect x="118" y="379.4" width="80.8" height="18.1" rx="1" fill="#7BA1F2"/>
<rect x="118" y="400.1" width="48.7" height="18.4" rx="1" fill="#7BA1F2"/>
<text id="bl1" x="41.83" y="367.50" font-size="8.62" fill="#1a1a1a" stroke="#1a1a1a" stroke-width="0.18" textLength="45.81" lengthAdjust="spacingAndGlyphs">ДО 1 МЛН$</text>
<text id="bl2" x="41.41" y="389.70" font-size="8.62" fill="#1a1a1a" stroke="#1a1a1a" stroke-width="0.18" textLength="72.79" lengthAdjust="spacingAndGlyphs">ВІД 1 ДО 10 МЛН$</text>
<text id="bl3" x="42.16" y="410.10" font-size="8.62" fill="#1a1a1a" stroke="#1a1a1a" stroke-width="0.18" textLength="70.34" lengthAdjust="spacingAndGlyphs">ПОНАД 10 МЛН$</text>
<text id="v38" x="229.79" y="373.62" font-size="18.00" fill="#1a1a1a" stroke="#fff" stroke-width="0.35" textLength="20.45" lengthAdjust="spacingAndGlyphs">38</text><text id="pc38" x="252.83" y="371.16" font-size="11.98" fill="#222" stroke="#fff" stroke-width="0.12" textLength="8.02" lengthAdjust="spacingAndGlyphs">%</text>
<text id="v28" x="201.90" y="394.78" font-size="18.00" fill="#1a1a1a" stroke="#fff" stroke-width="0.35" textLength="20.52" lengthAdjust="spacingAndGlyphs">28</text><text id="pc28" x="223.68" y="392.07" font-size="11.98" fill="#222" stroke="#fff" stroke-width="0.12" textLength="7.74" lengthAdjust="spacingAndGlyphs">%</text>
<text id="v17" x="170.61" y="415.82" font-size="18.00" fill="#1a1a1a" stroke="#fff" stroke-width="0.35" textLength="16.35" lengthAdjust="spacingAndGlyphs">17</text><text id="pc17" x="188.32" y="413.63" font-size="11.98" fill="#222" stroke="#fff" stroke-width="0.12" textLength="7.90" lengthAdjust="spacingAndGlyphs">%</text>

<rect x="292.8" y="328.4" width="241.8" height="16.9" fill="#B4CDF7"/>
<text id="lab4" x="296.75" y="341.80" font-size="11.84" fill="#1a1a1a" textLength="234.00" lengthAdjust="spacingAndGlyphs">МОБІЛІЗОВАНІ ПРАЦІВНИКИ КОМПАНІЙ</text>
<rect x="297.6" y="342.6" width="232.2" height="0.9" fill="#1a1a1a"/>
<rect x="340.9" y="358" width="17.1" height="18.5" rx="1" fill="#7BA1F2"/>
<rect x="340.9" y="379.4" width="136.8" height="18.3" rx="1" fill="#7BA1F2"/>
<rect x="340.9" y="400.6" width="97.9" height="18.2" rx="1" fill="#7BA1F2"/>
<text id="ml1" x="294.72" y="369.30" font-size="9.19" fill="#1a1a1a" stroke="#1a1a1a" stroke-width="0.18" textLength="34.73" lengthAdjust="spacingAndGlyphs">ДО 10%</text>
<text id="ml2" x="296.46" y="390.04" font-size="9.19" fill="#1a1a1a" stroke="#1a1a1a" stroke-width="0.18" textLength="32.85" lengthAdjust="spacingAndGlyphs">10-20%</text>
<text id="ml3" x="296.31" y="410.72" font-size="9.19" fill="#1a1a1a" stroke="#1a1a1a" stroke-width="0.18" textLength="34.93" lengthAdjust="spacingAndGlyphs">20-30%</text>
<text id="v5" x="363.19" y="372.64" font-size="18.00" fill="#1a1a1a" stroke="#fff" stroke-width="0.35" textLength="11.84" lengthAdjust="spacingAndGlyphs">5</text><text id="pc5" x="376.10" y="370.63" font-size="11.98" fill="#222" stroke="#fff" stroke-width="0.12" textLength="7.99" lengthAdjust="spacingAndGlyphs">%</text>
<text id="v39" x="479.99" y="393.60" font-size="18.00" fill="#1a1a1a" stroke="#fff" stroke-width="0.35" textLength="21.00" lengthAdjust="spacingAndGlyphs">39</text><text id="pc39" x="501.19" y="391.45" font-size="11.98" fill="#222" stroke="#fff" stroke-width="0.12" textLength="8.23" lengthAdjust="spacingAndGlyphs">%</text>
<text id="v28b" x="440.66" y="414.64" font-size="18.00" fill="#1a1a1a" stroke="#fff" stroke-width="0.35" textLength="21.01" lengthAdjust="spacingAndGlyphs">28</text><text id="pc28b" x="462.17" y="412.96" font-size="11.98" fill="#222" stroke="#fff" stroke-width="0.12" textLength="8.51" lengthAdjust="spacingAndGlyphs">%</text>

<g fill="none" stroke="#7BA1F2" stroke-width="2" stroke-linecap="round">
<circle cx="644.3" cy="332.8" r="5.3"/>
<circle cx="665.7" cy="332.8" r="5.3"/>
<circle cx="655" cy="338.1" r="7.8" fill="#fff"/>
<path d="M643.5,361 V353 Q643.5,346.5 650,346.5 H660 Q666.5,346.5 666.5,353 V361"/>
<path d="M635.7,350 V344 Q635.7,339 640.5,339 H643 M674.3,350 V344 Q674.3,339 669.5,339 H667"/>
</g>
<rect x="553.8" y="366.7" width="194.9" height="16.8" fill="#FCE29A"/>
<text id="lab5" x="557.49" y="378.96" font-size="11.84" fill="#1a1a1a" textLength="187.01" lengthAdjust="spacingAndGlyphs">НАЯВНІСТЬ ВЕТЕРАНІВ У ШТАТІ</text>
<rect x="558.5" y="379.9" width="185" height="0.9" fill="#1a1a1a"/>
<text id="vet" x="602.55" y="421.31" font-size="44.77" fill="#1a1a1a" stroke="#1a1a1a" stroke-width="0.5" textLength="92.05" lengthAdjust="spacingAndGlyphs">56%</text>
<text id="komp" x="624.91" y="434.50" font-size="12.50" fill="#222" textLength="66.03" lengthAdjust="spacingAndGlyphs">компаній</text>

<g fill="none" stroke="#7BA1F2" stroke-width="1.1" stroke-linecap="round">
<path d="M66.4,461.6 A13.8,13.8 0 1 0 80.2,475.4"/>
<path d="M66.4,466.2 A9.2,9.2 0 1 0 75.6,475.4"/>
<path d="M66.4,470.5 A4.9,4.9 0 1 0 71.3,475.4"/>
<path d="M66.4,475.4 L74.5,467.3"/>
<path d="M74.5,467.3 L73.5,464.5 L76.5,461.3 L77.3,464.3 Z M74.5,467.3 L77.3,468.3 L80.5,465.3 L77.3,464.3 Z"/>
</g>
<text id="head" x="87.40" y="483.00" font-size="19.93" fill="#0a0a0a" stroke="#0a0a0a" stroke-width="0.15" textLength="614.67" lengthAdjust="spacingAndGlyphs">ЩО ПОТРІБНО ДЛЯ ПОКРАЩЕННЯ УМОВ РОБОТИ БІЗНЕСУ</text>
<path d="M66.8,514.2 L74.6,507.5 H80.9 V546 H75.2 V514.7 L66.8,520.7 Z" fill="#B6CBF6"/><text id="n2" x="305.06" y="545.79" font-size="55.75" fill="#B6CBF6" stroke="#B6CBF6" stroke-width="1.3" textLength="37.37" lengthAdjust="spacingAndGlyphs">2</text><text id="n3" x="521.07" y="549.54" font-size="55.75" fill="#B6CBF6" stroke="#B6CBF6" stroke-width="1.3" textLength="35.20" lengthAdjust="spacingAndGlyphs">3</text>
<text id="i1a" x="104.74" y="514.80" font-size="11.30" fill="#222" textLength="94.71" lengthAdjust="spacingAndGlyphs">ВІДНОВЛЕННЯ</text><text id="i1b" x="105.37" y="530.65" font-size="11.30" fill="#222" textLength="107.10" lengthAdjust="spacingAndGlyphs">ТА ЗБЕРЕЖЕННЯ</text><text id="i1c" x="105.06" y="545.58" font-size="11.30" fill="#222" textLength="117.27" lengthAdjust="spacingAndGlyphs">ІНФРАСТРУКТУРИ</text>
<text id="i2a" x="352.39" y="528.42" font-size="11.30" fill="#222" textLength="64.80" lengthAdjust="spacingAndGlyphs">ПІЛЬГОВЕ</text><text id="i2b" x="352.29" y="543.70" font-size="11.30" fill="#222" textLength="104.93" lengthAdjust="spacingAndGlyphs">КРЕДИТУВАННЯ</text>
<text id="i3a" x="572.58" y="528.60" font-size="11.30" fill="#222" textLength="91.69" lengthAdjust="spacingAndGlyphs">ДОСТУПНІСТЬ</text><text id="i3b" x="572.48" y="544.51" font-size="11.30" fill="#222" textLength="144.29" lengthAdjust="spacingAndGlyphs">ГРАНТОВИХ ПРОГРАМ</text>
<rect x="0" y="580" width="789" height="28" fill="url(#fg)"/>
<text id="yr" x="720.64" y="600.50" font-size="13.70" fill="#333" textLength="36.23" lengthAdjust="spacingAndGlyphs">2025</text>
</svg>
</body></html>
